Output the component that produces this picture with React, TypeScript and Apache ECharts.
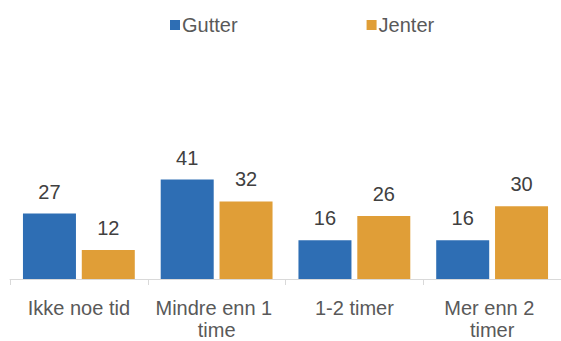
import React, { useEffect, useRef } from "react";
import * as echarts from "echarts";

const categories = ["Ikke noe tid", "Mindre enn 1 time", "1-2 timer", "Mer enn 2 timer"];
const gutter = [27, 41, 16, 16];
const jenter = [12, 32, 26, 30];
const seriesNames = ["Gutter", "Jenter"];

export default function App() {
  const ref = useRef<HTMLDivElement>(null);
  useEffect(() => {
    if (!ref.current) return;
    const chart = echarts.init(ref.current, null, { renderer: "svg" });
    const font = "'Liberation Sans', Arial, sans-serif";
    const label = {
      show: true,
      position: "top",
      distance: 12,
      color: "#404040",
      fontSize: 20,
      fontFamily: font,
    };
    chart.setOption({
      animation: false,
      backgroundColor: "#ffffff",
      textStyle: { fontFamily: font },
      legend: {
        data: seriesNames,
        left: 165,
        top: 10,
        itemWidth: 10,
        itemHeight: 10,
        itemGap: 129,
        icon: "rect",
        textStyle: { fontSize: 20, color: "#595959", fontFamily: font, padding: [0, 0, 0, -3] },
      },
      grid: { left: 10, right: 0, top: 85, bottom: 57, containLabel: false },
      xAxis: {
        type: "category",
        data: categories,
        axisLine: { lineStyle: { color: "#d9d9d9", width: 1 } },
        axisTick: { show: true, length: 6, lineStyle: { color: "#d9d9d9" } },
        axisLabel: {
          color: "#595959",
          fontSize: 20,
          fontFamily: font,
          margin: 18,
          lineHeight: 22,
          interval: 0,
          width: 128,
          overflow: "break",
        },
      },
      yAxis: {
        type: "value",
        min: 0,
        max: 80,
        show: false,
        splitLine: { show: false },
      },
      series: [
        {
          name: seriesNames[0],
          type: "bar",
          data: gutter,
          barWidth: 53,
          barGap: "11%",
          itemStyle: { color: "#2E6EB4" },
          label,
        },
        {
          name: seriesNames[1],
          type: "bar",
          data: jenter,
          barWidth: 53,
          itemStyle: { color: "#E09E37" },
          label,
        },
      ],
    });
    return () => chart.dispose();
  }, []);
  return <div ref={ref} style={{ width: 561, height: 341, position: "absolute", left: 0, top: 0 }} />;
}
